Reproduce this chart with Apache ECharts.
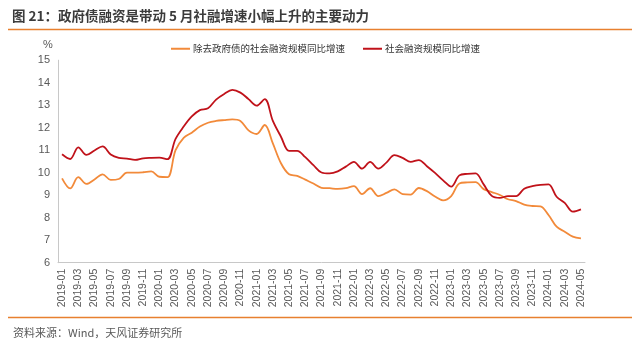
<!DOCTYPE html>
<html>
<head>
<meta charset="utf-8">
<script src="https://cdn.jsdelivr.net/npm/echarts@6/dist/echarts.min.js"></script>
<style>html,body{margin:0;padding:0;background:#fff}#c{width:641px;height:342px}</style>
</head>
<body>
<div id="c"></div>
<script>
// Months 2019-01 .. 2024-05
const months = [];
for (let y = 2019; y <= 2024; y++) {
  for (let m = 1; m <= 12; m++) {
    if (y === 2024 && m > 5) break;
    months.push(y + '-' + (m < 10 ? '0' + m : '' + m));
  }
}
const seriesExGovNames = '除去政府债的社会融资规模同比增速';
const seriesTotalName = '社会融资规模同比增速';
// 除去政府债的社会融资规模同比增速 (%)
const exGov = [9.75, 9.3, 9.8, 9.5, 9.7, 9.93, 9.68, 9.72, 10.0, 10.0, 10.02, 10.06, 9.82, 9.8,
  11.0, 11.55, 11.78, 12.05, 12.22, 12.3, 12.34, 12.37, 12.3, 11.88, 11.72, 12.12,
  11.3, 10.42, 9.93, 9.86, 9.69, 9.52, 9.33, 9.31, 9.28, 9.31, 9.4, 9.05, 9.31, 8.96,
  9.1, 9.26, 9.05, 9.03, 9.32, 9.18, 8.94, 8.77, 8.96, 9.52, 9.57, 9.58,
  9.27, 9.14, 9.01, 8.82, 8.74, 8.58, 8.52, 8.5, 8.12, 7.6, 7.38, 7.16, 7.08];
// 社会融资规模同比增速 (%)
const total = [10.82, 10.61, 11.13, 10.79, 10.99, 11.17, 10.81, 10.66, 10.63, 10.57, 10.64, 10.66, 10.67, 10.6,
  11.5, 12.05, 12.5, 12.78, 12.86, 13.25, 13.5, 13.68, 13.56, 13.27, 12.98, 13.27,
  12.3, 11.6, 10.97, 10.97, 10.69, 10.34, 10.01, 9.97, 10.06, 10.27, 10.48, 10.18, 10.48, 10.18,
  10.45, 10.78, 10.66, 10.48, 10.56, 10.29, 9.99, 9.66, 9.38, 9.88, 9.95, 9.97,
  9.48, 8.97, 8.88, 8.96, 8.96, 9.29, 9.4, 9.46, 9.48, 8.93, 8.66, 8.27, 8.37];
const yTicks = {min: 6, max: 15, interval: 1};

const FONT = '"Liberation Sans", Arial, "Noto Sans CJK SC", sans-serif';
const chart = echarts.init(document.getElementById('c'), null, {renderer: 'canvas'});
chart.setOption({
  animation: false,
  backgroundColor: '#ffffff',
  textStyle: {fontFamily: FONT},
  title: [
    {text: '图 21：政府债融资是带动 5 月社融增速小幅上升的主要动力', left: 7, top: 4,
     textStyle: {fontSize: 13.5, fontWeight: 'bold', color: '#3b3b3b', fontFamily: '"Noto Sans CJK SC", sans-serif'}},
    {text: '资料来源：Wind，天风证券研究所', left: 8, top: 322,
     textStyle: {fontSize: 11, fontWeight: 'normal', color: '#595959', fontFamily: '"Noto Sans CJK SC", sans-serif'}}
  ],
  graphic: [
    {type: 'line', shape: {x1: 8, y1: 29.5, x2: 632, y2: 29.5}, style: {stroke: '#E8802F', lineWidth: 1.5}},
    {type: 'line', shape: {x1: 8, y1: 317.5, x2: 632, y2: 317.5}, style: {stroke: '#E8802F', lineWidth: 1.5}}
  ],
  legend: {
    left: 166, top: 39, itemWidth: 19, itemHeight: 2, itemGap: 18, icon: 'rect',
    textStyle: {fontSize: 9.5, color: '#333', fontFamily: '"Noto Sans CJK SC", sans-serif', padding: [0, 0, 0, -2]},
    data: [seriesExGovNames, seriesTotalName]
  },
  grid: {left: 58, right: 56, top: 60.2, bottom: 79.3, containLabel: false},
  xAxis: {
    type: 'category', data: months, boundaryGap: true,
    axisLine: {lineStyle: {color: '#c8c8c8', width: 1}},
    axisTick: {show: false},
    axisLabel: {interval: 1, rotate: 90, fontSize: 10.5, color: '#595959', margin: 6, fontFamily: FONT}
  },
  yAxis: {
    type: 'value', min: yTicks.min, max: yTicks.max, interval: yTicks.interval,
    name: '%', nameLocation: 'end', nameGap: 10,
    nameTextStyle: {fontSize: 11, color: '#595959', align: 'center', padding: [0, 20, 0, 0]},
    axisLine: {show: true, lineStyle: {color: '#c8c8c8', width: 1}},
    axisTick: {show: false},
    splitLine: {show: false},
    axisLabel: {fontSize: 11, color: '#595959', margin: 8, fontFamily: FONT}
  },
  series: [
    {name: seriesExGovNames, type: 'line', data: exGov, smooth: 0.35, symbol: 'none',
     lineStyle: {color: '#F28A3A', width: 1.8}, itemStyle: {color: '#F28A3A'}},
    {name: seriesTotalName, type: 'line', data: total, smooth: 0.35, symbol: 'none',
     lineStyle: {color: '#C0121A', width: 1.8}, itemStyle: {color: '#C0121A'}}
  ]
});
</script>
</body>
</html>
